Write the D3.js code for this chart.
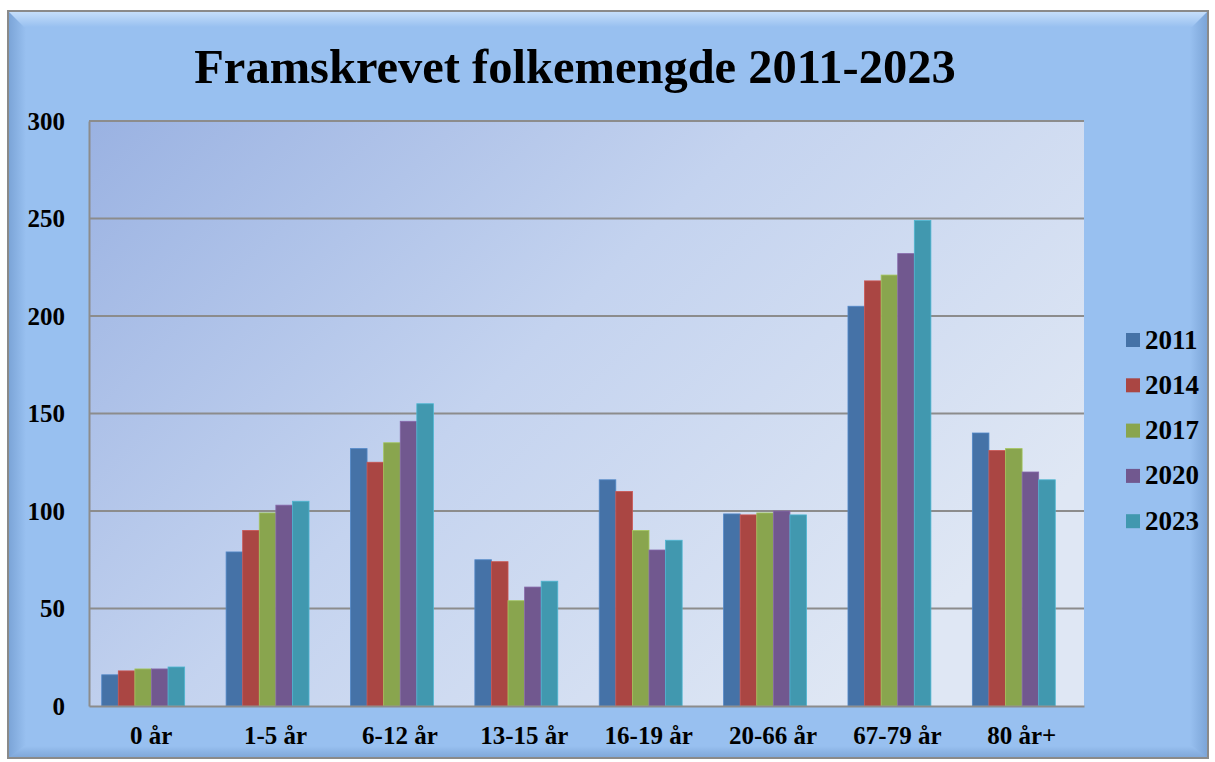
<!DOCTYPE html>
<html><head><meta charset="utf-8">
<script src="https://cdn.jsdelivr.net/npm/d3@7"></script>
<style>body{margin:0;background:#fff}svg{display:block}</style>
</head><body>
<svg id="c" width="1215" height="762"></svg>
<script>
const categories = ["0 år","1-5 år","6-12 år","13-15 år","16-19 år","20-66 år","67-79 år","80 år+"];
const seriesNames = ["2011","2014","2017","2020","2023"];
const v2011 = [16, 79, 132, 75, 116, 98.5, 205, 140];
const v2014 = [18, 90, 125, 74, 110, 98, 218, 131];
const v2017 = [19, 99, 135, 54, 90, 99, 221, 132];
const v2020 = [19, 103, 146, 61, 80, 100, 232, 120];
const v2023 = [20, 105, 155, 64, 85, 98, 249, 116];
const yTicks = [0, 50, 100, 150, 200, 250, 300];
const colors = ["#4572a7","#aa4643","#89a54e","#71588f","#4198af"];
const allSeries = [v2011, v2014, v2017, v2020, v2023];

const svg = d3.select("#c");
const defs = svg.append("defs");
const font = "'Liberation Serif','Times New Roman',serif";

// frame
const fx = 8, fy = 11, fw = 1200, fh = 747;
const fg = defs.append("linearGradient").attr("id","frameH").attr("x1","0").attr("x2","1");
fg.append("stop").attr("offset","0").attr("stop-color","#7aa3d6");
fg.append("stop").attr("offset","0.015").attr("stop-color","#98c0f0");
fg.append("stop").attr("offset","0.985").attr("stop-color","#98c0f0");
fg.append("stop").attr("offset","1").attr("stop-color","#7aa3d6");
svg.append("rect").attr("x",fx).attr("y",fy).attr("width",fw).attr("height",fh)
  .attr("fill","url(#frameH)");
const tg = defs.append("linearGradient").attr("id","topB").attr("x1","0").attr("x2","0").attr("y1","0").attr("y2","1");
tg.append("stop").attr("offset","0").attr("stop-color","#c8e0fb");
tg.append("stop").attr("offset","1").attr("stop-color","#98c0f0");
svg.append("path").attr("d",`M${fx},${fy} H${fx+fw} L${fx+fw-16},${fy+16} H${fx+16} Z`).attr("fill","url(#topB)");
const bg = defs.append("linearGradient").attr("id","botB").attr("x1","0").attr("x2","0").attr("y1","0").attr("y2","1");
bg.append("stop").attr("offset","0").attr("stop-color","#98c0f0");
bg.append("stop").attr("offset","1").attr("stop-color","#7ea6d8");
svg.append("path").attr("d",`M${fx},${fy+fh} H${fx+fw} L${fx+fw-16},${fy+fh-12} H${fx+16} Z`).attr("fill","url(#botB)");
svg.append("rect").attr("x",fx).attr("y",fy).attr("width",fw).attr("height",fh)
  .attr("fill","none").attr("stroke","#8a8a8a").attr("stroke-width",2);

// plot area
const L = 89, R = 1084, T = 121, B = 706;
const pg = defs.append("linearGradient").attr("id","plotG").attr("x1","0").attr("y1","0").attr("x2","1").attr("y2","0.6");
pg.append("stop").attr("offset","0").attr("stop-color","#9ab2e2");
pg.append("stop").attr("offset","0.5").attr("stop-color","#c4d3ef");
pg.append("stop").attr("offset","1").attr("stop-color","#dfe7f4");
svg.append("rect").attr("x",L).attr("y",T).attr("width",R-L).attr("height",B-T).attr("fill","url(#plotG)");

const y = d3.scaleLinear().domain([0,300]).range([B,T]);
const x0 = d3.scaleBand().domain(categories).range([L,R]).padding(0);
const bw = x0.bandwidth();
const groupW = bw * 2/3;
const groupOff = (bw - groupW)/2 - 8;
const x1 = d3.scaleBand().domain(seriesNames).range([groupOff, groupOff + groupW]);

// grid
svg.append("g").selectAll("line").data(yTicks.filter(d=>d>0)).join("line")
  .attr("x1",L).attr("x2",R).attr("y1",d=>y(d)).attr("y2",d=>y(d))
  .attr("stroke","#8c8c8c").attr("stroke-width",2);

// bars
const rows = categories.map((c,i)=>({c, vals: allSeries.map((s,j)=>({k:seriesNames[j], v:s[i], j}))}));
svg.append("g").selectAll("g").data(rows).join("g")
  .attr("transform",d=>`translate(${x0(d.c)},0)`)
  .selectAll("rect").data(d=>d.vals).join("rect")
  .attr("x",d=>x1(d.k)).attr("width",x1.bandwidth())
  .attr("y",d=>y(d.v)).attr("height",d=>y(0)-y(d.v))
  .attr("fill",d=>colors[d.j])
  .attr("stroke",d=>d3.color(colors[d.j]).brighter(0.5)).attr("stroke-width",0.8);

// axes
const yAxis = d3.axisLeft(y).tickValues(yTicks).tickSize(0).tickPadding(24);
const ga = svg.append("g").attr("transform",`translate(${L},0)`).call(yAxis);
ga.select(".domain").attr("stroke","#8c8c8c").attr("stroke-width",2);
ga.selectAll("text").attr("font-family",font).attr("font-weight","bold").attr("font-size",25).attr("fill","#000");

const xAxis = d3.axisBottom(x0).tickSize(0).tickPadding(20);
const gx = svg.append("g").attr("transform",`translate(0,${B})`).call(xAxis);
gx.select(".domain").attr("stroke","#8c8c8c").attr("stroke-width",2);
gx.selectAll("text").attr("font-family",font).attr("font-weight","bold").attr("font-size",25).attr("fill","#000");

// title
svg.append("text").attr("x",575).attr("y",83).attr("text-anchor","middle")
  .attr("font-family",font).attr("font-weight","bold").attr("font-size",48.5)
  .text("Framskrevet folkemengde 2011-2023");

// legend
const lg = svg.append("g").selectAll("g").data(seriesNames).join("g")
  .attr("transform",(d,i)=>`translate(1126,${340 + i*45.3})`);
lg.append("rect").attr("x",0).attr("y",-7).attr("width",14).attr("height",14).attr("fill",(d,i)=>colors[i]);
lg.append("text").attr("x",19).attr("y",8.5).attr("font-family",font).attr("font-weight","bold")
  .attr("font-size",27).text(d=>d);
</script>
</body></html>
